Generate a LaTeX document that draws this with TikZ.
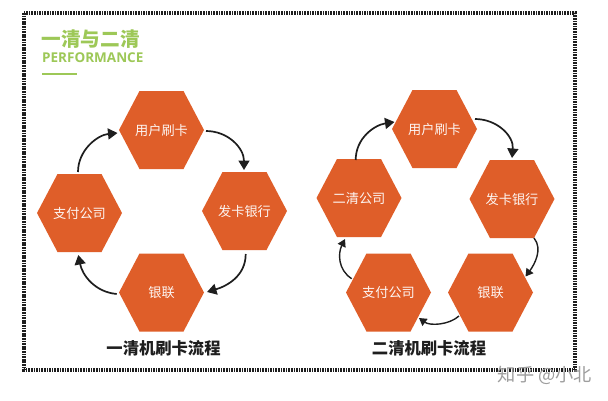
\documentclass[tikz,border=0pt]{standalone}
\usepackage{fontspec}
\setmainfont{Open Sans}
\newfontfamily\cjk{Noto Sans CJK SC}
\usetikzlibrary{arrows.meta,calc}
\definecolor{hexor}{HTML}{DF5E29}
\definecolor{grn}{HTML}{9DC857}
\definecolor{ink}{HTML}{1E1E1E}
\tikzset{
  hexfill/.style={fill=hexor},
  hextext/.style={text=white!94!hexor,font=\cjk\fontsize{13.2}{15}\selectfont,minimum width=85pt,minimum height=78pt,inner sep=0pt},
  flow/.style={draw=ink,line width=1.7pt,-{Triangle[length=9.5pt,width=11pt]}},
  flowthin/.style={draw=ink,line width=1.4pt,-{Triangle[length=7.5pt,width=8.5pt]}},
  frameline/.style={draw=ink,line width=3.2pt,dash pattern=on 1.7pt off 0.9pt},
  caption/.style={text=ink,font=\cjk\bfseries\fontsize{16.3}{18}\selectfont,inner sep=0pt},
}
\newcommand{\hexat}[4]{%
  \fill[hexfill] (#2-42.5,#3) -- (#2-22,#3-39) -- (#2+22,#3-39) -- (#2+42.5,#3) -- (#2+22,#3+39) -- (#2-22,#3+39) -- cycle;
  \node[hextext] (#1) at (#2,#3) {\raisebox{-1.2pt}{#4}};
}
\begin{document}
\begin{tikzpicture}[x=1pt,y=-1pt]
\useasboundingbox[fill=white] (0,0) rectangle (608,400);
\draw[frameline] (24,13) rectangle (575,370);
\node[text=grn,font=\cjk\bfseries\fontsize{19.6}{21}\selectfont,anchor=west,inner sep=0pt] (title) at (41.5,39) {一清与二清};
\node[text=grn,font=\bfseries\fontsize{13.5}{15}\selectfont,anchor=west,inner sep=0pt] (sub) at (42,58) {PERFORMANCE};
\fill[grn] (42,72.5) rectangle (77,74.7);
\hexat{a1}{161.5}{130}{用户刷卡}
\hexat{a2}{244.5}{211}{发卡银行}
\hexat{a3}{161.5}{292.5}{银联}
\hexat{a4}{79.5}{213}{支付公司}
\hexat{b1}{434.5}{129}{用户刷卡}
\hexat{b2}{512}{199}{发卡银行}
\hexat{b3}{490.5}{292.5}{银联}
\hexat{b4}{388.5}{292.5}{支付公司}
\hexat{b5}{359}{198}{二清公司}
\draw[flow] ([shift={(-1.5,-41)}]a4.center) .. controls +(0,-22) and +(-20,2) .. ([shift={(-44,3)}]a1.center);
\draw[flow] ([shift={(44.5,1)}]a1.center) .. controls +(22,0) and +(0,-22) .. ([shift={(-0.5,-41)}]a2.center);
\draw[flow] ([shift={(1.2,43)}]a2.center) .. controls +(0,22) and +(20,-6) .. ([shift={(45.5,-0.5)}]a3.center);
\draw[flow] ([shift={(-44.8,1.5)}]a3.center) .. controls +(-22,-2) and +(4,20) .. ([shift={(-1.2,42)}]a4.center);
\draw[flow] ([shift={(-3.3,-38)}]b5.center) .. controls +(0,-22) and +(-20,3) .. ([shift={(-40,-7)}]b1.center);
\draw[flow] ([shift={(40.5,-10)}]b1.center) .. controls +(22,0) and +(2,-22) .. ([shift={(0,-41)}]b2.center);
\draw[flowthin] ([shift={(22,39)}]b2.center) .. controls +(9,11) and +(9,-12) .. ([shift={(35,-16)}]b3.center);
\draw[flowthin] ([shift={(-31.5,23.5)}]b3.center) .. controls +(-10,9) and +(11,8) .. ([shift={(30.5,25.5)}]b4.center);
\draw[flowthin] ([shift={(-36.8,-13.8)}]b4.center) .. controls +(-14,-9) and +(-7,14) .. ([shift={(-14,41)}]b5.center);
\node[caption] (c1) at (163.5,348) {一清机刷卡流程};
\node[caption] (c2) at (429,348) {二清机刷卡流程};
\node[text=black!38,font=\cjk\fontsize{18.2}{20}\selectfont,inner sep=0pt] (mark) at (545,375) {知乎 @小北};
\end{tikzpicture}
\end{document}
